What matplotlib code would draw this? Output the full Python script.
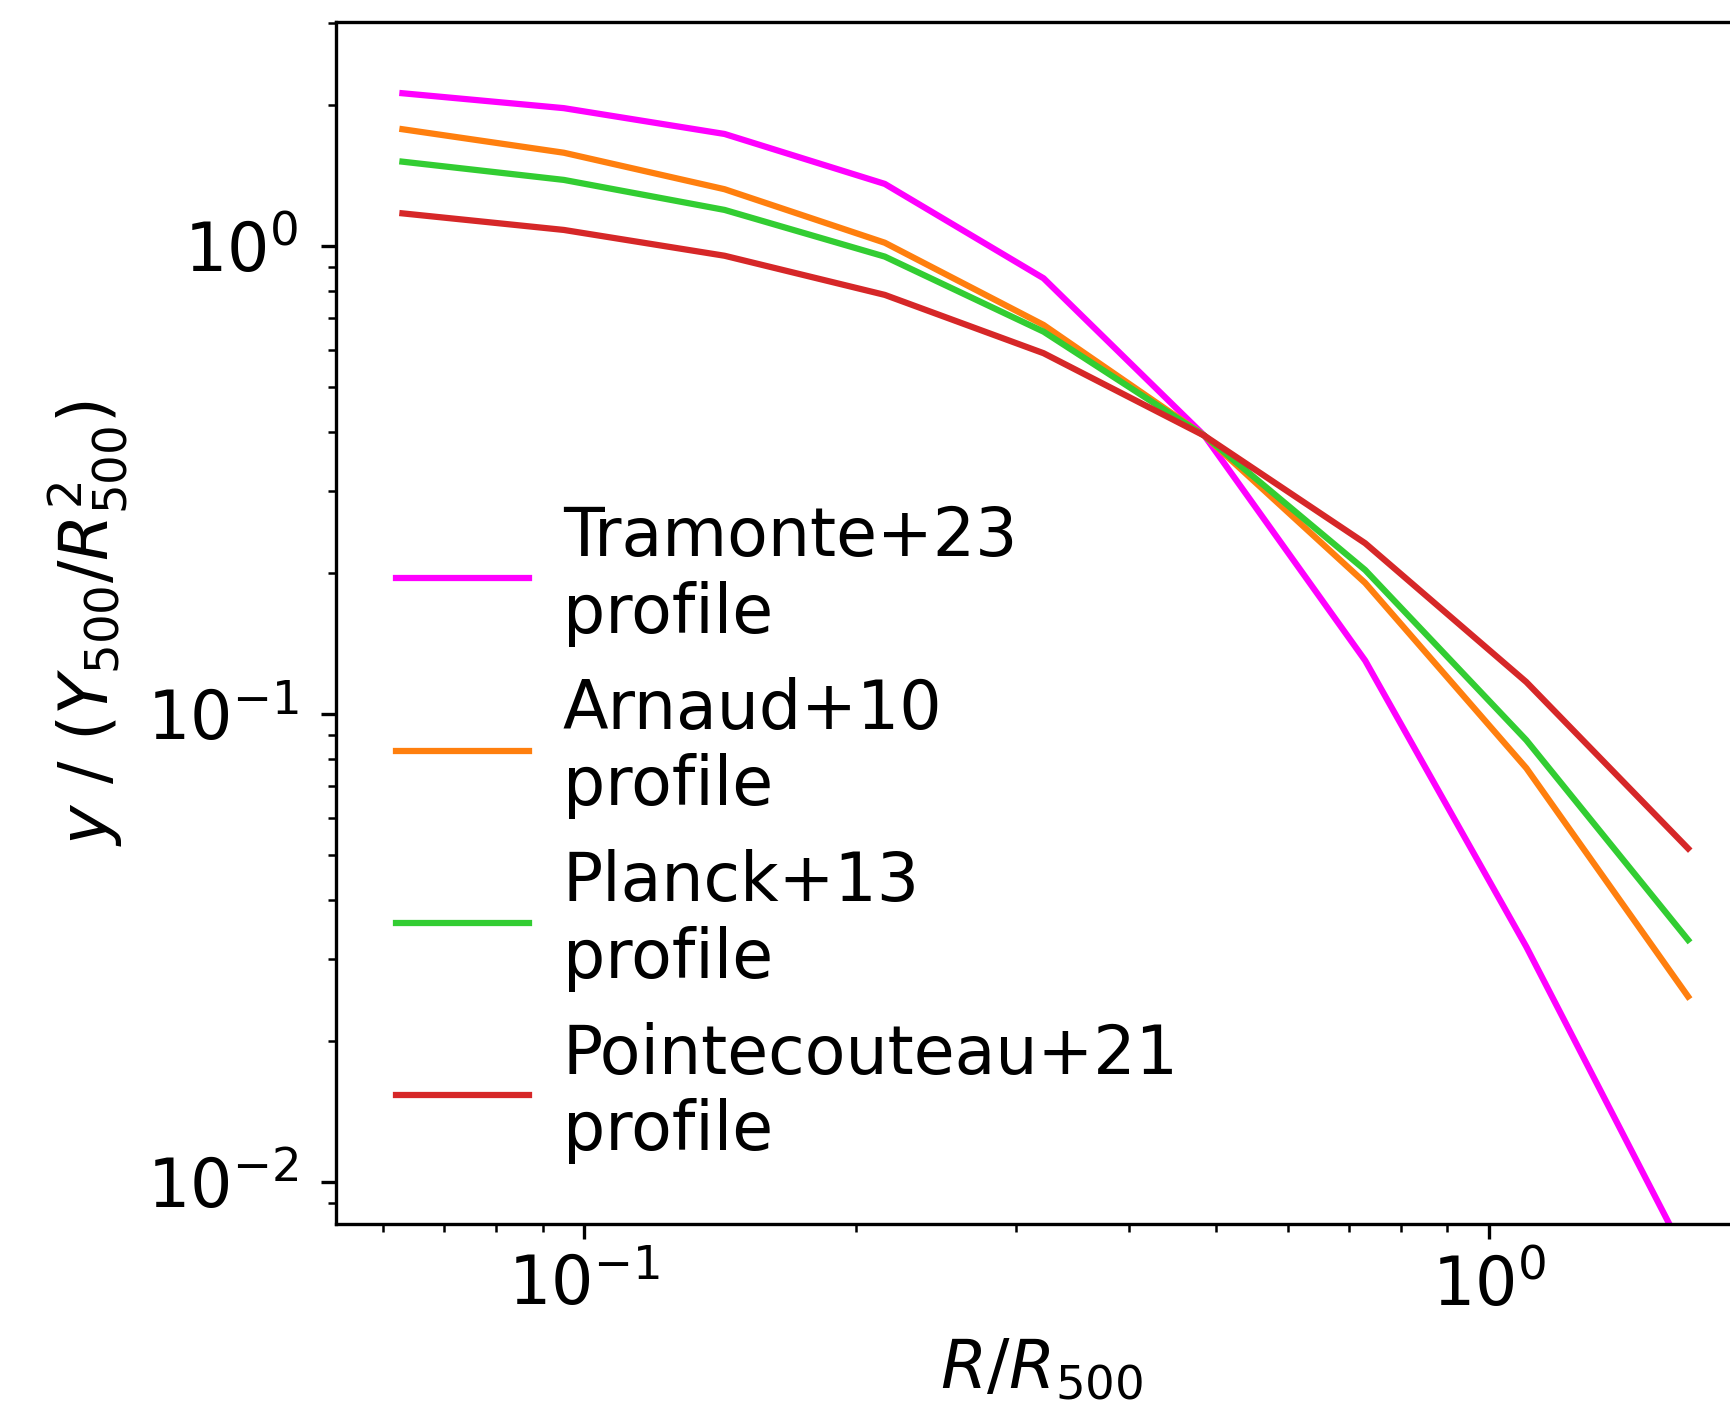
import matplotlib
matplotlib.use("Agg")
import matplotlib.pyplot as plt

# radial bins (R / R500)
r_bins = [0.063, 0.095, 0.143, 0.215, 0.322, 0.485, 0.73, 1.10, 1.66]

# normalised y profiles
tramonte = [2.12, 1.97, 1.735, 1.357, 0.853, 0.393, 0.130, 0.0318, 0.0068]
arnaud = [1.776, 1.582, 1.322, 1.016, 0.678, 0.393, 0.1905, 0.0766, 0.0249]
planck = [1.514, 1.384, 1.194, 0.949, 0.656, 0.393, 0.203, 0.0879, 0.0329]
pointecouteau = [1.174, 1.082, 0.953, 0.786, 0.590, 0.393, 0.2316, 0.117, 0.0516]

labels = ["Tramonte+23\nprofile", "Arnaud+10\nprofile",
          "Planck+13\nprofile", "Pointecouteau+21\nprofile"]
colors = ["#ff00ff", "#ff7f0e", "#32cd32", "#d62728"]

plt.rcParams["font.size"] = 16

fig = plt.figure(figsize=(1731 / 300, 1410 / 300), dpi=300)
# axes runs slightly past the right edge (original was cropped there)
ax = fig.add_axes([0.1941, 0.1319, 0.8146, 0.8525])

for prof, lab, col in zip([tramonte, arnaud, planck, pointecouteau], labels, colors):
    ax.plot(r_bins, prof, color=col, lw=1.5, label=lab)

ax.set_xscale("log")
ax.set_yscale("log")
ax.set_xlim(0.0532, 1.924)
ax.set_ylim(0.00813, 3.01)
ax.tick_params(axis="y", which="major", pad=5.5)

ax.set_xlabel(r"$R/R_{500}$")
ax.set_ylabel(r"$y$ / ($Y_{500}/R_{500}^2$)")

ax.legend(loc="lower left", frameon=False, fontsize=16,
          handletextpad=0.5, labelspacing=0.45)

fig.savefig("out.png", dpi=300)
